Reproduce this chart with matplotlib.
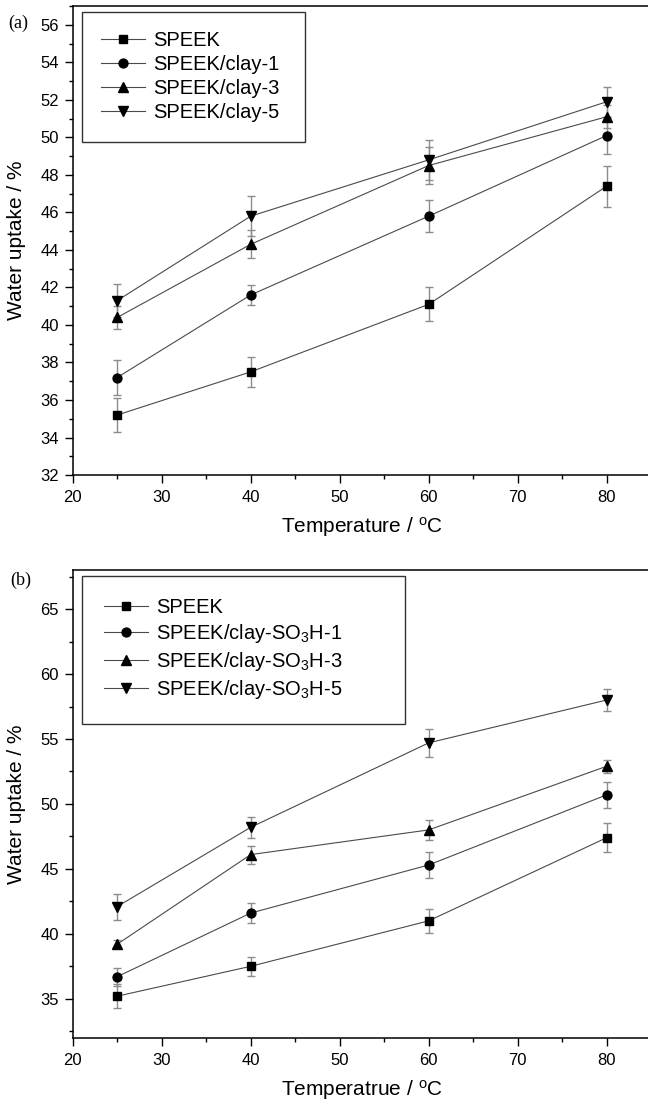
import matplotlib
matplotlib.use("Agg")
import matplotlib.pyplot as plt
from matplotlib.ticker import MultipleLocator

plt.rcParams["font.family"] = ["Liberation Sans", "DejaVu Sans"]
plt.rcParams["mathtext.fontset"] = "custom"
plt.rcParams["mathtext.rm"] = "Liberation Sans"
plt.rcParams["mathtext.it"] = "Liberation Sans"
plt.rcParams["mathtext.default"] = "regular"

temperature = [25, 40, 60, 80]

# panel (a): SPEEK / clay
a_labels = ["SPEEK", "SPEEK/clay-1", "SPEEK/clay-3", "SPEEK/clay-5"]
a_speek = [35.2, 37.5, 41.1, 47.4]
a_speek_err = [0.9, 0.8, 0.9, 1.1]
a_clay1 = [37.2, 41.6, 45.8, 50.1]
a_clay1_err = [0.95, 0.55, 0.85, 1.0]
a_clay3 = [40.4, 44.3, 48.5, 51.1]
a_clay3_err = [0.6, 0.75, 1.0, 0.6]
a_clay5 = [41.3, 45.8, 48.8, 51.9]
a_clay5_err = [0.9, 1.05, 1.05, 0.8]

# panel (b): SPEEK / clay-SO3H
b_labels = ["SPEEK", "SPEEK/clay-SO$_3$H-1", "SPEEK/clay-SO$_3$H-3",
            "SPEEK/clay-SO$_3$H-5"]
b_speek = [35.2, 37.5, 41.0, 47.4]
b_speek_err = [0.9, 0.75, 0.9, 1.1]
b_so3h1 = [36.7, 41.6, 45.3, 50.7]
b_so3h1_err = [0.7, 0.8, 1.0, 1.0]
b_so3h3 = [39.2, 46.1, 48.0, 52.9]
b_so3h3_err = [0.3, 0.7, 0.8, 0.5]
b_so3h5 = [42.1, 48.2, 54.7, 58.0]
b_so3h5_err = [1.0, 0.8, 1.05, 0.85]

markers = ["s", "o", "^", "v"]
msizes = [5.8, 6.4, 7.5, 7.5]


def draw_panel(ax, series, errors, labels, ylim, ymajor, yminor, xlabel,
               leg_width, leg_pad):
    handles = []
    for vals, errs, m, ms in zip(series, errors, markers, msizes):
        eb = ax.errorbar(temperature, vals, yerr=errs, fmt="-", marker=m, ms=ms,
                         color="#4a4a4a", lw=0.8, mfc="black", mec="black",
                         ecolor="#8c8c8c", elinewidth=1.0, capsize=2.8,
                         capthick=1.0)
        handles.append(eb.lines[0])

    ax.set_xlim(20, 85)
    ax.set_ylim(*ylim)
    ax.xaxis.set_major_locator(MultipleLocator(10))
    ax.xaxis.set_minor_locator(MultipleLocator(5))
    ax.yaxis.set_major_locator(MultipleLocator(ymajor))
    ax.yaxis.set_minor_locator(MultipleLocator(yminor))
    ax.tick_params(which="both", direction="out", width=1.0, labelsize=12,
                   top=False, right=False)
    ax.tick_params(which="major", length=5.5, pad=4.5)
    ax.tick_params(axis="x", which="major", pad=5.5)
    ax.tick_params(which="minor", length=3)
    for sp in ax.spines.values():
        sp.set_linewidth(1.1)

    ax.set_xlabel(xlabel, fontsize=15, labelpad=7)
    ax.set_ylabel("Water uptake / %", fontsize=15)
    ax.yaxis.set_label_coords(-0.08, 0.5)

    leg = ax.legend(handles, labels, loc="upper left", mode="expand",
                    bbox_to_anchor=(0.016, 0.5, leg_width, 0.487),
                    borderaxespad=0, fontsize=14.5, frameon=True,
                    fancybox=False, edgecolor="black", handlelength=2.2,
                    handletextpad=0.4, labelspacing=0.25, borderpad=leg_pad)
    leg.get_frame().set_linewidth(1.0)


fig = plt.figure(figsize=(6.48, 11.04), dpi=100)
ax_a = fig.add_axes([0.1122, 0.5697, 0.8927, 0.4248])
ax_b = fig.add_axes([0.1122, 0.0600, 0.8927, 0.4236])

draw_panel(ax_a,
           [a_speek, a_clay1, a_clay3, a_clay5],
           [a_speek_err, a_clay1_err, a_clay3_err, a_clay5_err],
           a_labels, (32, 57), 2, 1,
           "Temperature / $^{o}$C", 0.3855, 0.95)
draw_panel(ax_b,
           [b_speek, b_so3h1, b_so3h3, b_so3h5],
           [b_speek_err, b_so3h1_err, b_so3h3_err, b_so3h5_err],
           b_labels, (32, 68), 5, 2.5,
           "Temperatrue / $^{o}$C", 0.558, 1.1)

fig.text(8 / 648, 1 - 23 / 1104, "(a)", family="Liberation Serif", fontsize=13,
         ha="left", va="center")
fig.text(10 / 648, 1 - 580 / 1104, "(b)", family="Liberation Serif", fontsize=13,
         ha="left", va="center")

fig.savefig("out.png", dpi=100)
